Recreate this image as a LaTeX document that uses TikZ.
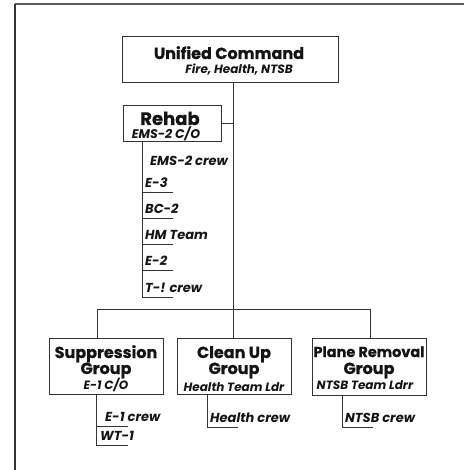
\documentclass[tikz,border=0pt]{standalone}
\usepackage{fontspec}
\setmainfont{Poppins}[BoldFeatures={FakeBold=0.6}]
\definecolor{ink}{HTML}{141414}
\definecolor{rule}{HTML}{333333}
\begin{document}
\begin{tikzpicture}[x=1pt,y=-1pt,
  box/.style={draw=rule,line width=1pt,rectangle,inner sep=0pt},
  title/.style={font=\fontsize{16}{18}\selectfont\bfseries,text=ink,inner sep=0pt,anchor=base},
  sub/.style={font=\fontsize{12}{14}\selectfont\bfseries\itshape,text=ink,inner sep=0pt,anchor=base},
  item/.style={font=\fontsize{13}{15}\selectfont\bfseries\itshape,text=ink,inner sep=0pt,anchor=base west},
  wire/.style={draw=rule,line width=1pt}]
\useasboundingbox (0,0) rectangle (464,470);
\fill[white] (0,0) rectangle (464,470);

% page frame: top and left edges only
\draw[rule!80,line width=1.6pt] (15,4) -- (464,4);
\draw[rule,line width=1.6pt] (15,4) -- (15,470);

% boxes
\node[box,minimum width=216pt,minimum height=46pt] (uc) at (230,60) {};
\node[box,minimum width=98pt,minimum height=36pt] (rehab) at (172,124) {};
\node[box,minimum width=114pt,minimum height=56pt] (supp) at (106,366) {};
\node[box,minimum width=114pt,minimum height=56pt] (clean) at (234,366) {};
\node[box,minimum width=114pt,minimum height=57pt] (plane) at (369,366.5) {};

% box texts
\node[title] (uct) at (229,59) {Unified Command};
\node[sub] (ucs) at (239,74) {Fire, Health, NTSB};
\node[title,font=\fontsize{18}{20}\selectfont\bfseries] (rht) at (170,125) {Rehab};
\node[sub,font=\fontsize{12.5}{14}\selectfont\bfseries\itshape] (rhs) at (166,139) {EMS-2 C/O};
\node[title] (st1) at (106,358) {Suppression};
\node[title] (st2) at (106,374) {Group};
\node[sub] (ss) at (106,389) {E-1 C/O};
\node[title] (ct1) at (234,358) {Clean Up};
\node[title] (ct2) at (234,374) {Group};
\node[sub] (cs) at (234,391) {Health Team Ldr};
\node[title,font=\fontsize{14.5}{17}\selectfont\bfseries] (pt1) at (369,357) {Plane Removal};
\node[title] (pt2) at (369,374) {Group};
\node[sub] (ps) at (365,389) {NTSB Team Ldrr};

% trunk and bus
\coordinate (trunk) at (233,309);
\coordinate (sdrop) at (97,309);
\coordinate (pdrop) at (370,309);
\draw[wire] (uc.south -| trunk) -- (trunk);
\draw[wire] (rehab.east) -- (rehab.east -| trunk);
\draw[wire] (sdrop) -- (pdrop);
\draw[wire] (sdrop) -- (supp.north -| sdrop);
\draw[wire] (trunk) -- (clean.north -| trunk);
\draw[wire] (pdrop) -- (plane.north -| pdrop);

% rehab members
\coordinate (rv) at (142,297);
\draw[wire] (rehab.south -| rv) -- (rv);
\node[item] (r1) at (150,166) {EMS-2 crew};
\node[item] (r2) at (145,187) {E-3};
\node[item] (r3) at (145,213) {BC-2};
\node[item] (r4) at (145,239) {HM Team};
\node[item] (r5) at (145,265) {E-2};
\node[item] (r6) at (145,292) {T-! crew};
\foreach \y in {192,218,244,270,297}
  \draw[wire] (rv |- 0,\y) -- (173,\y);

% suppression members
\coordinate (sv) at (96,445);
\draw[wire] (supp.south -| sv) -- (sv);
\node[item] (s1) at (105,421) {E-1 crew};
\node[item] (s2) at (100,440) {WT-1};
\draw[wire] (sv |- 0,426) -- (128,426);
\draw[wire] (sv) -- (128,445);

% clean up members
\coordinate (cv) at (207,427);
\draw[wire] (clean.south -| cv) -- (cv) -- (238,427);
\node[item] (c1) at (210,422) {Health crew};

% plane removal members
\coordinate (pv) at (342,427);
\draw[wire] (plane.south -| pv) -- (pv) -- (373,427);
\node[item] (p1) at (345,422) {NTSB crew};
\end{tikzpicture}
\end{document}
